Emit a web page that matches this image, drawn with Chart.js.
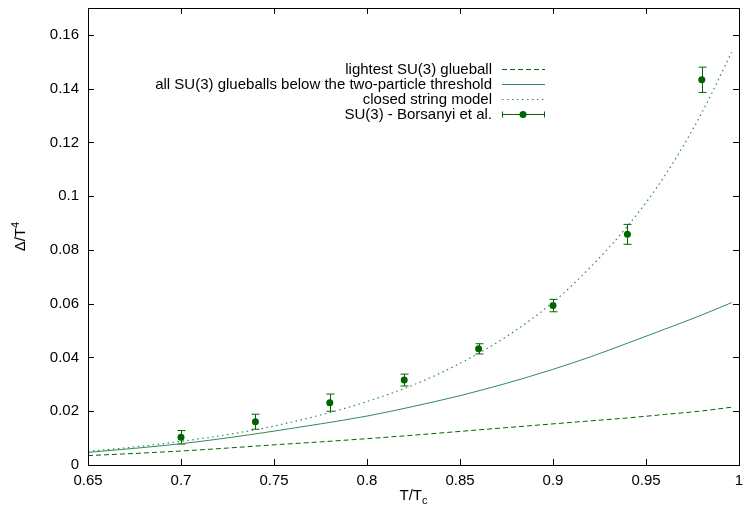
<!DOCTYPE html>
<html>
<head>
<meta charset="utf-8">
<script src="https://cdn.jsdelivr.net/npm/chart.js@4.4.1/dist/chart.umd.min.js"></script>
<style>
    html, body { margin: 0; padding: 0; background: #fff; }
    #wrap { width: 745px; height: 511px; }
</style>
</head>
<body>
<div id="wrap"><canvas id="deltaChart" width="745" height="511"></canvas></div>
<script>
// T/Tc samples for the model curves
const curveT = [0.65, 0.675, 0.70, 0.725, 0.75, 0.775, 0.80, 0.825, 0.85, 0.875, 0.90, 0.92, 0.94, 0.96, 0.98, 0.996];
const lightestGlueball = [0.0035, 0.0043, 0.0052, 0.0063, 0.0075, 0.0086, 0.0098, 0.0111, 0.0125, 0.0139, 0.0153, 0.0164, 0.0175, 0.0188, 0.0201, 0.0215];
const allGlueballs = [0.0047, 0.0062, 0.0079, 0.0101, 0.0126, 0.0153, 0.0182, 0.0218, 0.0258, 0.0304, 0.0356, 0.0402, 0.0453, 0.0505, 0.0558, 0.0604];
const closedString = [0.0051, 0.0067, 0.0088, 0.0113, 0.0145, 0.0186, 0.0236, 0.0298, 0.0378, 0.0478, 0.0605, 0.0735, 0.0888, 0.1075, 0.1310, 0.1535];

// lattice data (Borsanyi et al.)
const latticeT = [0.70, 0.74, 0.78, 0.82, 0.86, 0.90, 0.94, 0.98];
const latticeDelta = [0.0103, 0.0161, 0.0232, 0.0316, 0.0432, 0.0593, 0.0858, 0.1433];
const latticeErr = [0.0025, 0.0028, 0.0032, 0.0022, 0.0019, 0.0023, 0.0037, 0.0047];

const xTicks = [0.65, 0.7, 0.75, 0.8, 0.85, 0.9, 0.95, 1];
const yTicks = [0, 0.02, 0.04, 0.06, 0.08, 0.1, 0.12, 0.14, 0.16];

const FONT = "'Liberation Sans', Arial, sans-serif";
const DARK = '#006400';
const SEA = '#2e8b57';

const toPoints = (xs, ys) => xs.map((x, i) => ({ x: x, y: ys[i] }));

// frame, inner ticks, error bars, key and axis titles (gnuplot look)
const gnuplotLook = {
    id: 'gnuplotLook',
    beforeDatasetsDraw(chart) {
        const c = chart.ctx;
        const xs = chart.scales.x, ys = chart.scales.y;
        c.save();
        c.strokeStyle = DARK;
        c.lineWidth = 1;
        latticeT.forEach((t, i) => {
            const px = Math.round(xs.getPixelForValue(t)) + 0.5;
            const top = ys.getPixelForValue(latticeDelta[i] + latticeErr[i]);
            const bot = ys.getPixelForValue(latticeDelta[i] - latticeErr[i]);
            c.beginPath();
            c.moveTo(px, top); c.lineTo(px, bot);
            c.moveTo(px - 4, top); c.lineTo(px + 4, top);
            c.moveTo(px - 4, bot); c.lineTo(px + 4, bot);
            c.stroke();
        });
        c.restore();
    },
    afterDraw(chart) {
        const c = chart.ctx;
        const a = chart.chartArea;
        const xs = chart.scales.x, ys = chart.scales.y;
        c.save();
        c.strokeStyle = '#000';
        c.lineWidth = 1;
        c.strokeRect(a.left + 0.5, a.top + 0.5, a.right - a.left, a.bottom - a.top);

        c.beginPath();
        xTicks.forEach(v => {
            const px = Math.round(xs.getPixelForValue(v)) + 0.5;
            c.moveTo(px, a.bottom); c.lineTo(px, a.bottom - 6);
            c.moveTo(px, a.top); c.lineTo(px, a.top + 6);
        });
        yTicks.forEach(v => {
            const py = Math.round(ys.getPixelForValue(v)) + 0.5;
            c.moveTo(a.left, py); c.lineTo(a.left + 6, py);
            c.moveTo(a.right, py); c.lineTo(a.right - 6, py);
        });
        c.stroke();

        // key
        c.font = '15px ' + FONT;
        c.fillStyle = '#000';
        c.textAlign = 'right';
        c.textBaseline = 'middle';
        chart.data.datasets.forEach((ds, i) => {
            const ry = 69.5 + i * 15;
            c.fillText(ds.label, 492, ry);
            c.strokeStyle = ds.borderColor;
            c.lineWidth = 1;
            c.setLineDash(ds.borderDash || []);
            c.beginPath();
            c.moveTo(502, ry); c.lineTo(545, ry);
            c.stroke();
            c.setLineDash([]);
            if (!ds.showLine) {
                c.beginPath();
                c.moveTo(502.5, ry - 3); c.lineTo(502.5, ry + 3);
                c.moveTo(544.5, ry - 3); c.lineTo(544.5, ry + 3);
                c.stroke();
                c.fillStyle = ds.backgroundColor;
                c.beginPath();
                c.arc(523, ry, 3.5, 0, Math.PI * 2);
                c.fill();
                c.fillStyle = '#000';
            }
        });

        // x title: T/T_c
        c.textAlign = 'left';
        c.textBaseline = 'alphabetic';
        c.font = '15px ' + FONT;
        const main = 'T/T';
        const w1 = c.measureText(main).width;
        c.font = '11px ' + FONT;
        const w2 = c.measureText('c').width;
        const cx = (a.left + a.right) / 2 - (w1 + w2) / 2;
        c.font = '15px ' + FONT;
        c.fillText(main, cx, 500);
        c.font = '11px ' + FONT;
        c.fillText('c', cx + w1, 504);

        // y title: Delta/T^4
        c.translate(25, (a.top + a.bottom) / 2);
        c.rotate(-Math.PI / 2);
        c.font = '15px ' + FONT;
        const ym = '\u0394/T';
        const v1 = c.measureText(ym).width;
        c.font = '11px ' + FONT;
        const v2 = c.measureText('4').width;
        const sx = -(v1 + v2) / 2;
        c.font = '15px ' + FONT;
        c.fillText(ym, sx, 0);
        c.font = '11px ' + FONT;
        c.fillText('4', sx + v1, -6);
        c.restore();
    }
};

const ctx = document.getElementById('deltaChart');
const deltaChart = new Chart(ctx, {
    type: 'scatter',
    data: {
        datasets: [{
            label: 'lightest SU(3) glueball',
            data: toPoints(curveT, lightestGlueball),
            showLine: true,
            borderColor: DARK,
            borderWidth: 1,
            borderDash: [5, 3],
            pointRadius: 0,
            cubicInterpolationMode: 'monotone'
        }, {
            label: 'all SU(3) glueballs below the two-particle threshold',
            data: toPoints(curveT, allGlueballs),
            showLine: true,
            borderColor: SEA,
            borderWidth: 1,
            pointRadius: 0,
            cubicInterpolationMode: 'monotone'
        }, {
            label: 'closed string model',
            data: toPoints(curveT, closedString),
            showLine: true,
            borderColor: SEA,
            borderWidth: 1.2,
            borderDash: [1.5, 3.5],
            pointRadius: 0,
            cubicInterpolationMode: 'monotone'
        }, {
            label: 'SU(3) - Borsanyi et al.',
            data: toPoints(latticeT, latticeDelta),
            showLine: false,
            borderColor: DARK,
            backgroundColor: DARK,
            pointRadius: 3.5,
            pointBorderWidth: 0
        }]
    },
    options: {
        responsive: false,
        animation: false,
        devicePixelRatio: 1,
        layout: { padding: { left: 0, top: 8, right: 6, bottom: 0 } },
        plugins: {
            legend: { display: false },
            tooltip: { enabled: false }
        },
        scales: {
            x: {
                type: 'linear',
                position: 'bottom',
                min: 0.65,
                max: 1,
                grid: { display: false, drawTicks: false },
                border: { display: false },
                afterBuildTicks: s => { s.ticks = xTicks.map(v => ({ value: v })); },
                afterFit: s => { s.height = 46; s.paddingLeft = 0; s.paddingRight = 0; },
                ticks: {
                    maxRotation: 0,
                    autoSkip: false,
                    padding: 7,
                    color: '#000',
                    font: { family: FONT, size: 15 },
                    callback: v => String(v)
                }
            },
            y: {
                type: 'linear',
                min: 0,
                max: 0.17,
                grid: { display: false, drawTicks: false },
                border: { display: false },
                afterBuildTicks: s => { s.ticks = yTicks.map(v => ({ value: v })); },
                afterFit: s => { s.width = 88; s.paddingTop = 0; s.paddingBottom = 0; },
                ticks: {
                    autoSkip: false,
                    padding: 9,
                    color: '#000',
                    font: { family: FONT, size: 15 },
                    callback: v => String(v)
                }
            }
        }
    },
    plugins: [gnuplotLook]
});
</script>
</body>
</html>
